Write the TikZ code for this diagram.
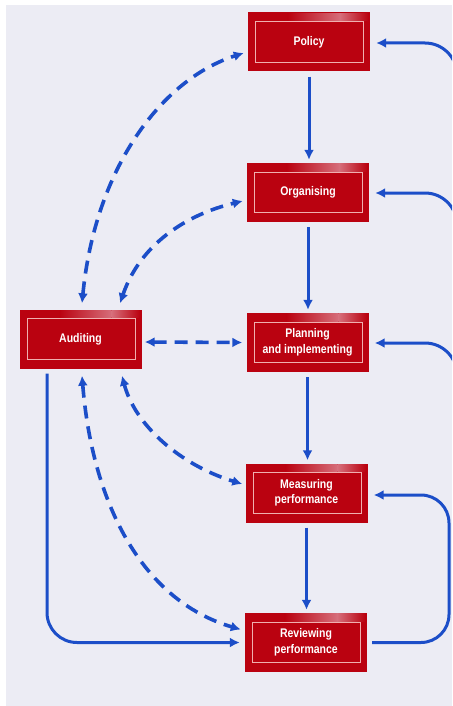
\documentclass[tikz,border=0pt]{standalone}
\usepackage{fontspec}
\setmainfont{Liberation Sans}[FakeStretch=0.84]
\usetikzlibrary{arrows.meta}
\definecolor{bg}{RGB}{236,236,244}
\definecolor{arrowblue}{RGB}{28,78,200}
\definecolor{boxred}{RGB}{186,2,16}
\definecolor{framepink}{RGB}{240,175,175}
\definecolor{glow}{RGB}{214,110,122}
\tikzset{
  box/.style={rectangle, fill=boxred, minimum width=122pt, minimum height=59pt, inner sep=0pt,
    text=white, font=\bfseries\fontsize{12.5}{15.5}\selectfont, align=center},
  flow/.style={draw=arrowblue, line width=3pt, -{Latex[length=10pt,width=10pt]}},
  audit/.style={draw=arrowblue, line width=3.6pt, dash pattern=on 13pt off 8pt,
    {Latex[length=10pt,width=10pt]}-{Latex[length=10pt,width=10pt]}},
  innerframe/.style={draw=framepink, line width=1.2pt},
}
\begin{document}
\begin{tikzpicture}[x=1pt,y=-1pt]
\useasboundingbox (0,0) rectangle (452,706);
\clip (0,0) rectangle (452,706);
\fill[white] (0,0) rectangle (452,706);
\fill[bg] (6,5) rectangle (452,706);

\node[box] (policy)     at (309,42)    {Policy};
\node[box] (organising) at (308,192.5) {Organising};
\node[box] (planning)   at (307.5,342.5) {Planning\\and implementing};
\node[box] (measuring)  at (306.5,493) {Measuring\\performance};
\node[box] (reviewing)  at (306,642.5) {Reviewing\\performance};
\node[box] (auditing)   at (80.5,339)  {Auditing};

\foreach \n in {policy,organising,planning,measuring,reviewing,auditing}{
  \shade[left color=boxred, right color=glow]
    ([shift={(40pt,-1pt)}]\n.north west) rectangle ([shift={(-30pt,-8.5pt)}]\n.north east);
  \shade[left color=glow, right color=boxred]
    ([shift={(-30pt,-1pt)}]\n.north east) rectangle ([shift={(-2pt,-8.5pt)}]\n.north east);
  \draw[innerframe] ([shift={(8pt,-9.5pt)}]\n.north west) rectangle ([shift={(-6.5pt,9.5pt)}]\n.south east);
}

% main downward flow
\draw[flow] ([yshift=-5pt]policy.south) -- ([yshift=3pt]policy.south |- organising.north);
\draw[flow] ([yshift=-5pt]organising.south) -- ([yshift=3pt]organising.south |- planning.north);
\draw[flow] ([yshift=-5pt]planning.south) -- ([yshift=3pt]planning.south |- measuring.north);
\draw[flow] ([yshift=-5pt]measuring.south) -- ([yshift=3pt]measuring.south |- reviewing.north);

% right-side feedback
\draw[flow, rounded corners=28pt] ([xshift=5pt]reviewing.east) -- (449,642.5) -- (449,495) -- ([shift={(6pt,-2pt)}]measuring.east);
\coordinate (fbp) at (457,130);
\coordinate (fbo) at (457,280);
\coordinate (fbl) at (457,430);
\draw[flow, rounded corners=32pt] (fbp) -- (457,43) -- ([shift={(6pt,-1pt)}]policy.east);
\draw[flow, rounded corners=32pt] (fbo) -- (457,193) -- ([shift={(6pt,-0.5pt)}]organising.east);
\draw[flow, rounded corners=32pt] (fbl) -- (457,343) -- ([shift={(6pt,-0.5pt)}]planning.east);

% auditing to reviewing (solid)
\draw[flow, rounded corners=30pt] ([shift={(-33.5pt,-5pt)}]auditing.south) |- ([xshift=-5pt]reviewing.west);

% dashed auditing links
\draw[audit] ([shift={(1.5pt,6pt)}]auditing.north) .. controls (95,170) and (160,80) .. ([shift={(-4pt,-11pt)}]policy.west);
\draw[audit] ([shift={(39.5pt,6pt)}]auditing.north) .. controls (140,245) and (185,215) .. ([shift={(-4pt,-8.5pt)}]organising.west);
\draw[audit] ([shift={(3pt,-3pt)}]auditing.east) -- ([shift={(-4pt,0pt)}]planning.west);
\draw[audit] ([shift={(41.5pt,-7pt)}]auditing.south) .. controls (135,425) and (180,465) .. ([shift={(-3pt,9pt)}]measuring.west);
\draw[audit] ([shift={(1.5pt,-7pt)}]auditing.south) .. controls (92,500) and (140,600) .. ([shift={(-4pt,13pt)}]reviewing.west);
\end{tikzpicture}
\end{document}
